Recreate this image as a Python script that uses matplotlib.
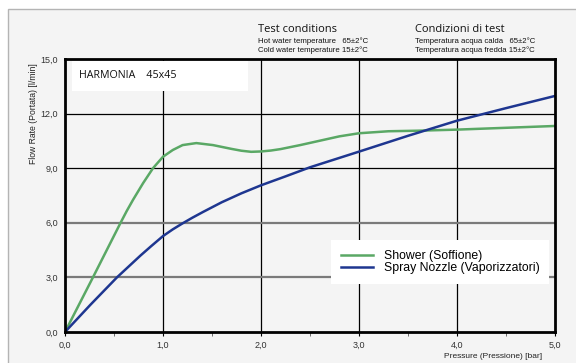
import matplotlib
matplotlib.use("Agg")
import matplotlib.pyplot as plt
from matplotlib.patches import Rectangle
from matplotlib.ticker import MultipleLocator

plt.rcParams["font.family"] = ["Liberation Sans", "DejaVu Sans"]

# flow curves, read point by point
shower_p = [0.0, 0.285, 0.567, 0.63, 0.695, 0.797, 0.898, 1.0, 1.1, 1.2, 1.34, 1.51, 1.6,
            1.7, 1.8, 1.9, 2.0, 2.1, 2.2, 2.4, 2.6, 2.8, 3.0, 3.3, 3.6, 4.0, 4.5, 5.0]
shower_q = [0.0, 3.0, 6.0, 6.65, 7.27, 8.18, 9.0, 9.63, 10.0, 10.27, 10.38, 10.27, 10.17,
            10.06, 9.96, 9.9, 9.92, 9.97, 10.05, 10.27, 10.51, 10.75, 10.92, 11.03, 11.06,
            11.12, 11.22, 11.32]

spray_p = [0.0, 0.26, 0.53, 0.77, 0.88, 1.0, 1.1, 1.2, 1.3, 1.41, 1.6, 1.8, 2.0, 2.25, 2.5,
           2.75, 3.0, 3.5, 4.0, 4.5, 5.0]
spray_q = [0.0, 1.5, 3.0, 4.2, 4.72, 5.27, 5.64, 5.97, 6.28, 6.6, 7.13, 7.62, 8.06, 8.55,
           9.05, 9.48, 9.91, 10.78, 11.61, 12.3, 12.97]

x_ticks = [0.0, 1.0, 2.0, 3.0, 4.0, 5.0]
y_ticks = [0.0, 3.0, 6.0, 9.0, 12.0, 15.0]

PANEL = "#f4f4f4"
GREEN = "#5aa865"
NAVY = "#1e3690"

fig = plt.figure(figsize=(5.76, 3.63), dpi=100, facecolor="white")
fig.patches.append(Rectangle((8 / 576, -0.01), 1.0, 1 - 9 / 363 + 0.01,
                             transform=fig.transFigure, facecolor=PANEL,
                             edgecolor="#b4b4b4", linewidth=1.0, zorder=-10))

ax = fig.add_axes([65 / 576, 31 / 363, 490 / 576, 273 / 363])
ax.set_facecolor(PANEL)
ax.set_xlim(0, 5)
ax.set_ylim(0, 15)

# grid: light rows at 3 and 6, dark elsewhere
for x in x_ticks[1:-1]:
    ax.axvline(x, color="black", linewidth=0.9, zorder=1)
for y in [3.0, 6.0]:
    ax.axhline(y, color="#7a7a7a", linewidth=1.6, zorder=1)
for y in [9.0, 12.0]:
    ax.axhline(y, color="black", linewidth=0.9, zorder=1)

ax.plot(shower_p, shower_q, color=GREEN, linewidth=1.8, label="Shower (Soffione)",
        zorder=3, solid_joinstyle="round")
ax.plot(spray_p, spray_q, color=NAVY, linewidth=1.8, label="Spray Nozzle (Vaporizzatori)",
        zorder=3, solid_joinstyle="round")

for s in ax.spines.values():
    s.set_linewidth(2.0)
    s.set_color("black")
    s.set_zorder(5)

ax.set_xticks(x_ticks, [f"{v:.1f}".replace(".", ",") for v in x_ticks])
ax.set_yticks(y_ticks, [f"{v:.1f}".replace(".", ",") for v in y_ticks])
ax.xaxis.set_minor_locator(MultipleLocator(0.5))
ax.tick_params(axis="x", which="major", length=3, width=0.8, pad=3, labelsize=6.5, labelcolor="#333333")
ax.tick_params(axis="x", which="minor", length=3, width=0.6, color="#555555")
ax.tick_params(axis="y", length=0, pad=5, labelsize=6.5, labelcolor="#333333")

fig.text(33 / 576, 1 - 114 / 363, "Flow Rate (Portata) [l/min]", rotation=90,
         ha="center", va="center", fontsize=6.2, color="#222222")
fig.text(493 / 576, 1 - 356 / 363, "Pressure (Pressione) [bar]",
         ha="center", va="center", fontsize=6, color="#222222")

# model box
ax.add_patch(Rectangle((72 / 576, 1 - 91 / 363), 176 / 576, 30 / 363,
                       transform=fig.transFigure, facecolor="white", edgecolor="none", zorder=4))
fig.text(79 / 576, 1 - 76 / 363, "HARMONIA    45x45", ha="left", va="center",
         fontsize=7.7, color="#111111", family=["Open Sans", "DejaVu Sans"], zorder=5)

# test conditions
fig.text(258 / 576, 1 - 30 / 363, "Test conditions", ha="left", va="center",
         fontsize=8, color="#111111", family=["Open Sans", "DejaVu Sans"])
fig.text(258 / 576, 1 - 41 / 363, "Hot water temperature   65\u00b12\u00b0C", ha="left",
         va="center", fontsize=5.6, color="#111111")
fig.text(258 / 576, 1 - 50 / 363, "Cold water temperature 15\u00b12\u00b0C", ha="left",
         va="center", fontsize=5.6, color="#111111")
fig.text(415 / 576, 1 - 30 / 363, "Condizioni di test", ha="left", va="center",
         fontsize=8, color="#111111", family=["Open Sans", "DejaVu Sans"])
fig.text(415 / 576, 1 - 41 / 363, "Temperatura acqua calda   65\u00b12\u00b0C", ha="left",
         va="center", fontsize=5.6, color="#111111")
fig.text(415 / 576, 1 - 50 / 363, "Temperatura acqua fredda 15\u00b12\u00b0C", ha="left",
         va="center", fontsize=5.6, color="#111111")

leg = ax.legend(loc="upper left", bbox_to_anchor=((331 - 65) / 490, (332 - 240) / 273),
                frameon=True, fancybox=False, framealpha=1, edgecolor="none",
                facecolor="white", fontsize=8.8, handlelength=2.6, handletextpad=0.9,
                borderpad=0.8, labelspacing=0.05, borderaxespad=0)
leg.set_zorder(6)

fig.savefig("out.png", dpi=100, facecolor="white")
